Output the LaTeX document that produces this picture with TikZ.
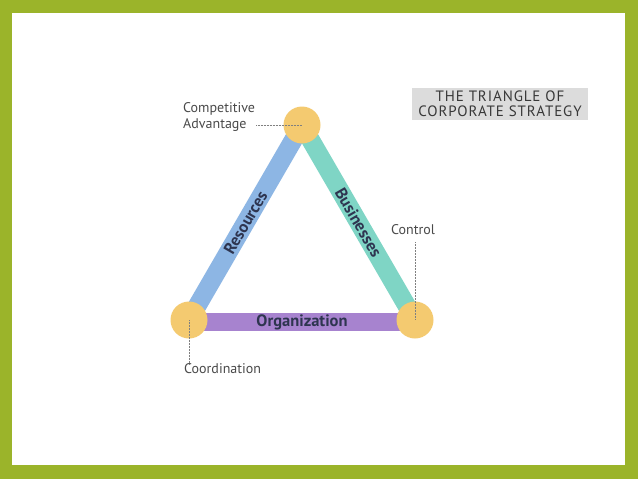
\documentclass[tikz,border=0pt]{standalone}
\usepackage{fontspec}
\setmainfont{PT Sans}
\usetikzlibrary{backgrounds}
\definecolor{frameg}{HTML}{9BB42A}
\definecolor{barblue}{HTML}{8DB6E4}
\definecolor{barteal}{HTML}{7FD5C5}
\definecolor{barpurple}{HTML}{A783CF}
\definecolor{dotgold}{HTML}{F4CA70}
\definecolor{labgrey}{HTML}{4A4A4A}
\definecolor{barlab}{HTML}{2E3550}
\definecolor{titlebg}{HTML}{DCDCDC}
\tikzset{
  vertex/.style={circle, fill=dotgold, inner sep=0pt, minimum size=37pt},
  bar/.style={line width=18.5pt, line cap=butt},
  barlabel/.style={font=\fontsize{16.5}{16.5}\selectfont\bfseries, text=barlab, sloped, inner sep=0pt},
  lab/.style={font=\fontsize{14}{15.5}\selectfont, text=labgrey, inner sep=0pt},
  leader/.style={labgrey!70, line width=0.5pt, densely dotted},
}
\begin{document}
\begin{tikzpicture}[x=1pt,y=-1pt]
\useasboundingbox (0,0) rectangle (638,479);
% vertices
\node[vertex] (top) at (302,125) {};
\node[vertex] (bl) at (189,320) {};
\node[vertex] (br) at (415,320) {};
\begin{scope}[on background layer]
\fill[frameg] (0,0) rectangle (638,479);
\fill[white] (12,13) rectangle (625,465);
\draw[bar, barblue] (bl.center) -- node[barlabel, pos=0.5] {Resources} (top.center);
\draw[bar, barteal] (top.center) -- node[barlabel, pos=0.5] {Businesses} (br.center);
\draw[bar, barpurple] ([yshift=-2pt]bl.center) -- node[barlabel, pos=0.5] {Organization} ([yshift=-2pt]br.center);
\end{scope}
% labels
\node[lab, align=left, anchor=west] (ca) at (183,117) {Competitive\\Advantage};
\coordinate (caend) at (256,125);
\draw[leader] (caend) -- (top.center);
\node[lab, anchor=center] (ctrl) at (413,230) {Control};
\draw[leader] ([yshift=-7pt]ctrl.south -| br.center) -- (br.center);
\node[lab, anchor=west] (coord) at (184,369) {Coordination};
\draw[leader] (bl.center) -- (bl.center |- coord.north);
% title
\node[fill=titlebg, minimum width=176pt, minimum height=32pt, inner sep=0pt, align=center,
      font=\fontsize{15}{15}\selectfont, text=black!78] (title) at (500,104)
      {\addfontfeature{LetterSpace=6}THE TRIANGLE OF\\\addfontfeature{LetterSpace=6}CORPORATE STRATEGY};
\end{tikzpicture}
\end{document}
